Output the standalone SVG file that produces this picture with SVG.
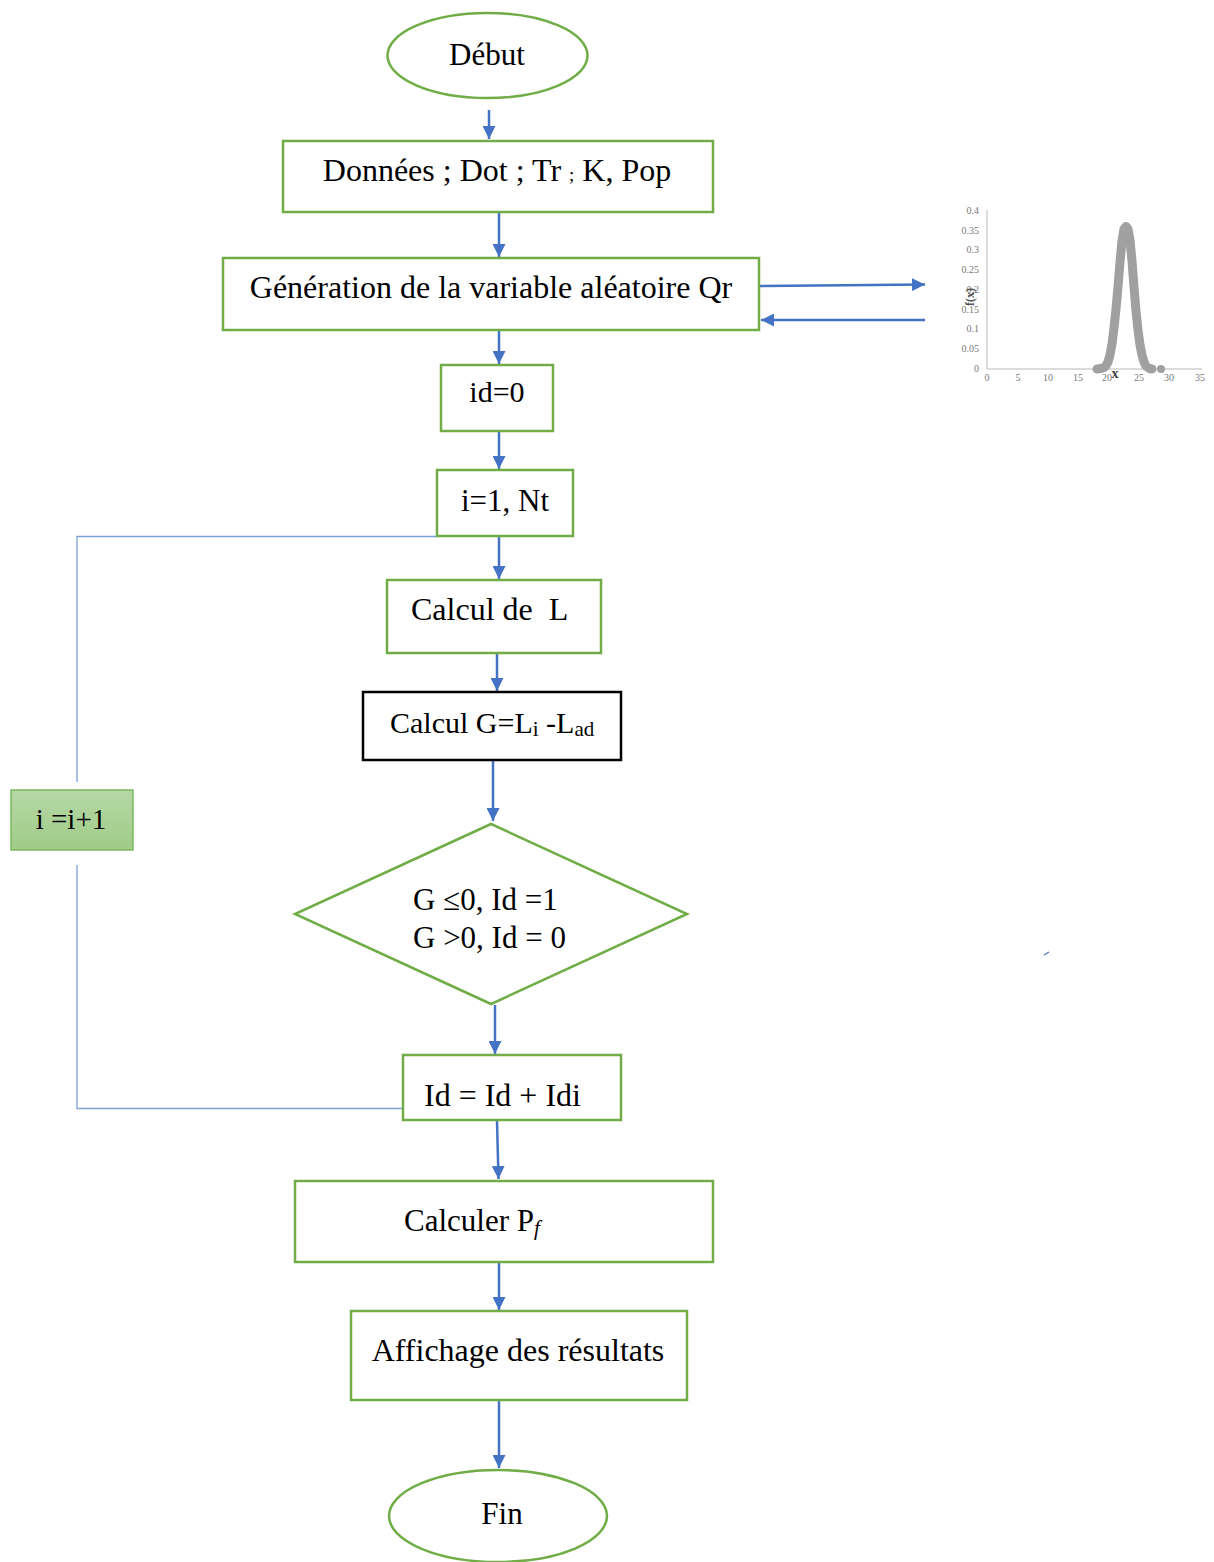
<svg xmlns="http://www.w3.org/2000/svg" width="1214" height="1562" viewBox="0 0 1214 1562">
<defs>
<style>
.t{font-family:"Liberation Serif","Times New Roman",serif;fill:#000;}
.box{fill:#fff;stroke:#70AD47;stroke-width:2.5;}
.conn{stroke:#4472C4;stroke-width:2.5;fill:none;}
.loop{stroke:#7F9FD9;stroke-width:1.3;fill:none;}
.ax{stroke:#D0D0D0;stroke-width:1.5;fill:none;}
.tick{font-family:"Liberation Serif","Times New Roman",serif;fill:#777;font-size:10px;}
</style>
<marker id="ah" viewBox="0 0 10 10" refX="10" refY="5" markerWidth="13" markerHeight="13" markerUnits="userSpaceOnUse" orient="auto">
<path d="M0,0 L10,5 L0,10 z" fill="#4472C4"/>
</marker>
<linearGradient id="gg" x1="0" y1="0" x2="0" y2="1">
<stop offset="0" stop-color="#B6D8A6"/>
<stop offset="1" stop-color="#9FCB88"/>
</linearGradient>
</defs>
<rect width="1214" height="1562" fill="#fff"/>

<g id="connectors">
<line class="conn" x1="489" y1="110" x2="489" y2="139" marker-end="url(#ah)"/>
<line class="conn" x1="499" y1="213" x2="499" y2="257" marker-end="url(#ah)"/>
<line class="conn" x1="499" y1="331" x2="499" y2="364" marker-end="url(#ah)"/>
<line class="conn" x1="499" y1="432" x2="499" y2="469" marker-end="url(#ah)"/>
<line class="conn" x1="499" y1="537" x2="499" y2="579" marker-end="url(#ah)"/>
<line class="conn" x1="497" y1="654" x2="497" y2="691" marker-end="url(#ah)"/>
<line class="conn" x1="493" y1="761" x2="493" y2="821" marker-end="url(#ah)"/>
<line class="conn" x1="495" y1="1005" x2="495" y2="1054" marker-end="url(#ah)"/>
<line class="conn" x1="497" y1="1121" x2="498.5" y2="1179" marker-end="url(#ah)"/>
<line class="conn" x1="499" y1="1263" x2="499" y2="1310" marker-end="url(#ah)"/>
<line class="conn" x1="499" y1="1401" x2="499" y2="1468" marker-end="url(#ah)"/>
<line class="conn" x1="760" y1="286" x2="925" y2="284.5" marker-end="url(#ah)"/>
<line class="conn" x1="925" y1="320" x2="761" y2="320" marker-end="url(#ah)"/>
<polyline class="loop" points="437,536.5 77,536.5 77,782"/>
<polyline class="loop" points="77,865 77,1108.5 403,1108.5"/>
<line x1="1044" y1="955" x2="1049" y2="952" stroke="#4472C4" stroke-width="1.2"/>
</g>

<g id="debut">
<ellipse cx="487.5" cy="55.5" rx="100" ry="42.5" fill="#fff" stroke="#70AD47" stroke-width="2.5"/>
<text class="t" x="487" y="65" font-size="31" text-anchor="middle">Début</text>
</g>

<g id="donnees">
<rect class="box" x="283" y="141" width="430" height="71"/>
<text class="t" x="497" y="181" font-size="32" text-anchor="middle">Données ; Dot ; Tr <tspan font-size="19">;</tspan> K, Pop</text>
</g>

<g id="generation">
<rect class="box" x="223" y="258" width="536" height="72"/>
<text class="t" x="491" y="298" font-size="32" text-anchor="middle">Génération de la variable aléatoire Qr</text>
</g>

<g id="id0">
<rect class="box" x="441" y="365" width="112" height="66"/>
<text class="t" x="497" y="402" font-size="30" text-anchor="middle">id=0</text>
</g>

<g id="boucle">
<rect class="box" x="437" y="470" width="136" height="66"/>
<text class="t" x="505" y="511" font-size="31" text-anchor="middle">i=1, Nt</text>
</g>

<g id="calculL">
<rect class="box" x="387" y="580" width="214" height="73"/>
<text class="t" x="411" y="620" font-size="32" xml:space="preserve">Calcul de  L</text>
</g>

<g id="calculG">
<rect x="363" y="692" width="258" height="68" fill="#fff" stroke="#000" stroke-width="2.5"/>
<text class="t" x="390" y="733" font-size="30">Calcul G=L<tspan font-size="21" dy="3">i</tspan><tspan dy="-3"> -L</tspan><tspan font-size="21" dy="3">ad</tspan></text>
</g>

<g id="decision">
<polygon points="491,824 687,914 491,1004 295,914" fill="#fff" stroke="#70AD47" stroke-width="2.5"/>
<text class="t" x="413" y="910" font-size="31">G ≤0, Id =1</text>
<text class="t" x="413" y="948" font-size="31">G &gt;0, Id = 0</text>
</g>

<g id="increment">
<rect x="11" y="790" width="122" height="60" fill="url(#gg)" stroke="#7CB860" stroke-width="1.5"/>
<text class="t" x="71" y="829" font-size="29" text-anchor="middle">i =i+1</text>
</g>

<g id="somme">
<rect class="box" x="403" y="1055" width="218" height="65"/>
<text class="t" x="424" y="1106" font-size="32">Id = Id + Idi</text>
</g>

<g id="calculPf">
<rect class="box" x="295" y="1181" width="418" height="81"/>
<text class="t" x="404" y="1231" font-size="31">Calculer P<tspan font-size="21" dy="4" font-style="italic">f</tspan></text>
</g>

<g id="affichage">
<rect class="box" x="351" y="1311" width="336" height="89"/>
<text class="t" x="518" y="1361" font-size="32" text-anchor="middle">Affichage des résultats</text>
</g>

<g id="fin">
<ellipse cx="498" cy="1516" rx="109" ry="46" fill="#fff" stroke="#70AD47" stroke-width="2.5"/>
<text class="t" x="502" y="1524" font-size="31" text-anchor="middle">Fin</text>
</g>

<g id="graphe">
<line class="ax" x1="987" y1="210" x2="987" y2="369"/>
<line class="ax" x1="987" y1="369" x2="1202" y2="369"/>
<g class="tick" text-anchor="end">
<text x="979" y="214">0.4</text>
<text x="979" y="234">0.35</text>
<text x="979" y="253">0.3</text>
<text x="979" y="273">0.25</text>
<text x="979" y="293">0.2</text>
<text x="979" y="313">0.15</text>
<text x="979" y="332">0.1</text>
<text x="979" y="352">0.05</text>
<text x="979" y="372">0</text>
</g>
<g class="tick" text-anchor="middle" font-size="8">
<text x="987" y="381">0</text>
<text x="1018" y="381">5</text>
<text x="1048" y="381">10</text>
<text x="1078" y="381">15</text>
<text x="1107" y="381">20</text>
<text x="1139" y="381">25</text>
<text x="1169" y="381">30</text>
<text x="1200" y="381">35</text>
</g>
<path d="M1097,369 L1101,368.6 L1104,367.5 L1106,365.5 L1108,362 L1110,355 L1112,344 L1114,328 L1116,309 L1118,287 L1120,262 L1122,241 L1124,229 L1126,226.5 L1128,229 L1130,240 L1132,261 L1134,287 L1136,311 L1138,330 L1140,345 L1142,355 L1144,362 L1146,366 L1149,368.3 L1152,369" fill="none" stroke="#A0A0A0" stroke-width="9" stroke-linecap="round" stroke-linejoin="round"/>
<circle cx="1161" cy="369" r="4" fill="#A0A0A0"/>
<text x="974" y="297" font-family="Liberation Serif, serif" font-size="12" font-weight="bold" fill="#555" text-anchor="middle" transform="rotate(-90 974 297)">f(x)</text>
<text x="1115" y="378" font-family="Liberation Serif, serif" font-size="14" font-weight="bold" fill="#444" text-anchor="middle">x</text>
</g>
</svg>
